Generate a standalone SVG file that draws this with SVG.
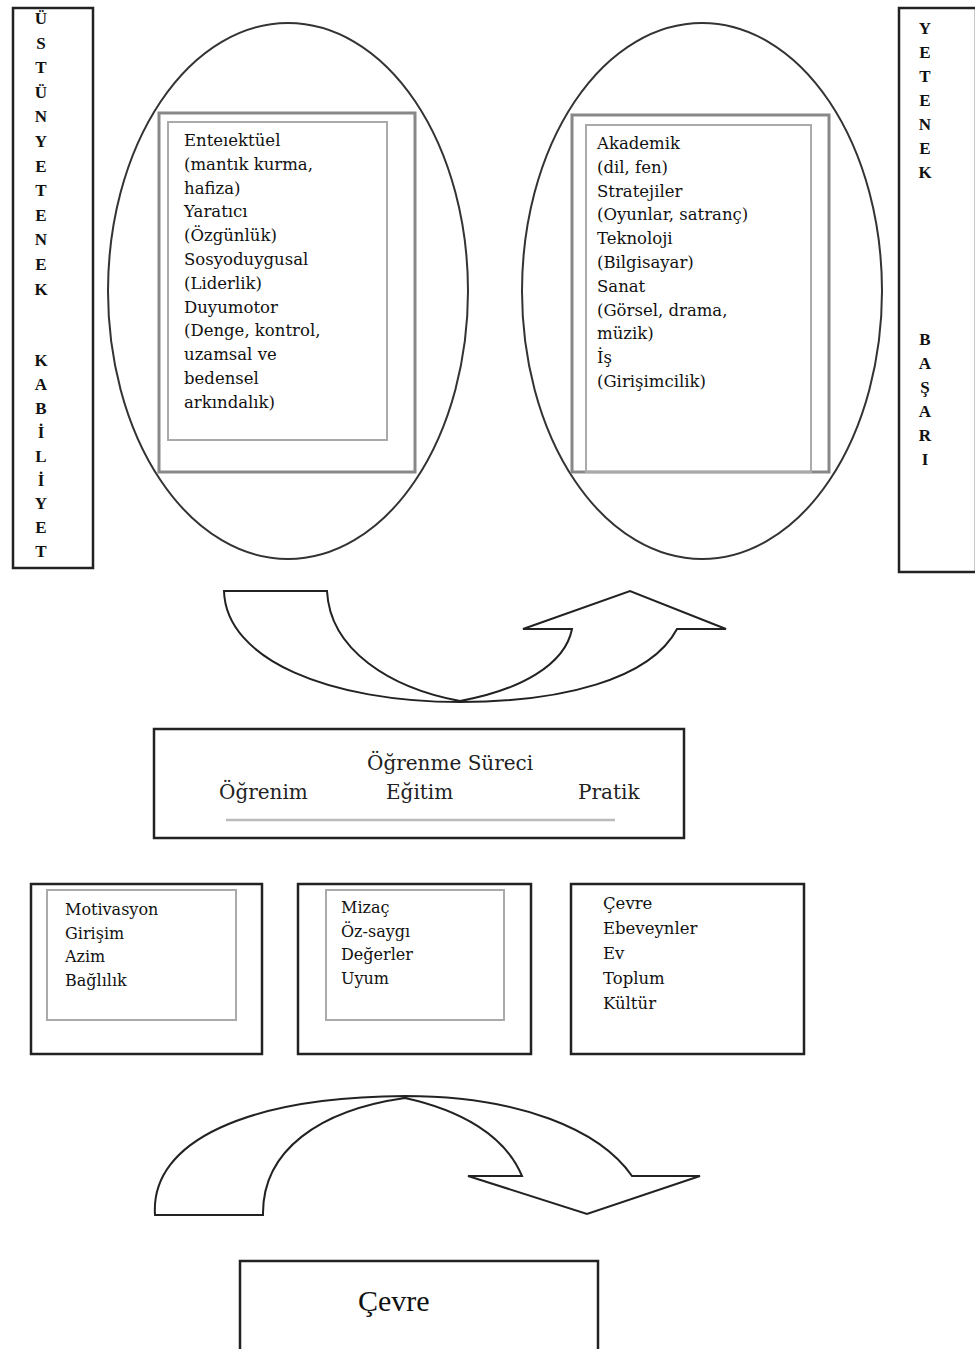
<svg xmlns="http://www.w3.org/2000/svg" width="975" height="1349" viewBox="0 0 975 1349">
<style>
.bar{fill:#fff;stroke:#222;stroke-width:2.5}
.vl{font-family:"Liberation Serif","DejaVu Serif",serif;font-weight:bold;font-size:17px;fill:#111;text-anchor:middle}
.ell{fill:none;stroke:#333;stroke-width:2}
.orect{fill:none;stroke:#888;stroke-width:3}
.irect{fill:none;stroke:#aaa;stroke-width:2}
.t1{font-family:"DejaVu Serif","Liberation Serif",serif;font-size:16.5px;fill:#111}
.box{fill:#fff;stroke:#222;stroke-width:2.5}
.mid{font-family:"DejaVu Serif","Liberation Serif",serif;font-size:20px;fill:#222}
.t2{font-family:"DejaVu Serif","Liberation Serif",serif;font-size:16px;fill:#111}
.t3{font-family:"DejaVu Serif","Liberation Serif",serif;font-size:16.5px;fill:#111}
.arrow{fill:none;stroke:#222;stroke-width:2}
</style>

<g id="left-bar">
<rect class="bar" x="13" y="8" width="80" height="560"/>
<text class="vl"><tspan x="41" y="24">Ü</tspan><tspan x="41" dy="24.6">S</tspan><tspan x="41" dy="24.6">T</tspan><tspan x="41" dy="24.6">Ü</tspan><tspan x="41" dy="24.6">N</tspan><tspan x="41" dy="24.6">Y</tspan><tspan x="41" dy="24.6">E</tspan><tspan x="41" dy="24.6">T</tspan><tspan x="41" dy="24.6">E</tspan><tspan x="41" dy="24.6">N</tspan><tspan x="41" dy="24.6">E</tspan><tspan x="41" dy="24.6">K</tspan></text>
<text class="vl"><tspan x="41" y="366">K</tspan><tspan x="41" dy="23.9">A</tspan><tspan x="41" dy="23.9">B</tspan><tspan x="41" dy="23.9">İ</tspan><tspan x="41" dy="23.9">L</tspan><tspan x="41" dy="23.9">İ</tspan><tspan x="41" dy="23.9">Y</tspan><tspan x="41" dy="23.9">E</tspan><tspan x="41" dy="23.9">T</tspan></text>
</g>

<g id="right-bar">
<rect class="bar" x="899" y="8" width="77" height="564"/>
<text class="vl"><tspan x="925" y="34">Y</tspan><tspan x="925" dy="24">E</tspan><tspan x="925" dy="24">T</tspan><tspan x="925" dy="24">E</tspan><tspan x="925" dy="24">N</tspan><tspan x="925" dy="24">E</tspan><tspan x="925" dy="24">K</tspan></text>
<text class="vl"><tspan x="925" y="345">B</tspan><tspan x="925" dy="24">A</tspan><tspan x="925" dy="24">Ş</tspan><tspan x="925" dy="24">A</tspan><tspan x="925" dy="24">R</tspan><tspan x="925" dy="24">I</tspan></text>
</g>

<g id="left-ellipse">
<ellipse class="ell" cx="288" cy="291" rx="180" ry="268"/>
<rect class="orect" x="159" y="113" width="256" height="359"/>
<rect class="irect" x="168" y="122" width="219" height="318"/>
<text class="t1"><tspan x="184" y="146">Enteıektüel</tspan><tspan x="184" dy="23.8">(mantık kurma,</tspan><tspan x="184" dy="23.8">hafiza)</tspan><tspan x="184" dy="23.8">Yaratıcı</tspan><tspan x="184" dy="23.8">(Özgünlük)</tspan><tspan x="184" dy="23.8">Sosyoduygusal</tspan><tspan x="184" dy="23.8">(Liderlik)</tspan><tspan x="184" dy="23.8">Duyumotor</tspan><tspan x="184" dy="23.8">(Denge, kontrol,</tspan><tspan x="184" dy="23.8">uzamsal ve</tspan><tspan x="184" dy="23.8">bedensel</tspan><tspan x="184" dy="23.8">arkındalık)</tspan></text>
</g>

<g id="right-ellipse">
<ellipse class="ell" cx="702" cy="291" rx="180" ry="268"/>
<rect class="orect" x="572" y="115" width="257" height="357"/>
<rect class="irect" x="586" y="125" width="225" height="347"/>
<text class="t1"><tspan x="597" y="149">Akademik</tspan><tspan x="597" dy="23.8">(dil, fen)</tspan><tspan x="597" dy="23.8">Stratejiler</tspan><tspan x="597" dy="23.8">(Oyunlar, satranç)</tspan><tspan x="597" dy="23.8">Teknoloji</tspan><tspan x="597" dy="23.8">(Bilgisayar)</tspan><tspan x="597" dy="23.8">Sanat</tspan><tspan x="597" dy="23.8">(Görsel, drama,</tspan><tspan x="597" dy="23.8">müzik)</tspan><tspan x="597" dy="23.8">İş</tspan><tspan x="597" dy="23.8">(Girişimcilik)</tspan></text>
</g>

<g id="connectors">
<path class="arrow" d="M224,591 L327,591 C330,650 390,688 460,701 C520,690 565,665 572,629 L523,629 L630,591 L726,629 L677,629 C650,680 560,702 460,702 C330,702 226,660 224,591 Z"/>
<path class="arrow" d="M155,1215 L263,1215 C262,1150 320,1110 405,1098 C460,1110 505,1135 522,1176 L468,1176 L587,1214 L700,1176 L632,1176 C600,1130 520,1096 405,1096 C250,1097 150,1140 155,1215 Z"/>
</g>

<g id="learning-process">
<rect class="box" x="154" y="729" width="530" height="109"/>
<text class="mid" x="367" y="770">Öğrenme Süreci</text>
<text class="mid" x="219" y="799">Öğrenim</text>
<text class="mid" x="386" y="799">Eğitim</text>
<text class="mid" x="578" y="799">Pratik</text>
<line x1="226" y1="820" x2="615" y2="820" stroke="#bbb" stroke-width="2.5"/>
</g>

<g id="box-motivation">
<rect class="box" x="31" y="884" width="231" height="170"/>
<rect class="irect" x="47" y="890" width="189" height="130"/>
<text class="t2"><tspan x="65" y="915">Motivasyon</tspan><tspan x="65" dy="23.5">Girişim</tspan><tspan x="65" dy="23.5">Azim</tspan><tspan x="65" dy="23.5">Bağlılık</tspan></text>
</g>

<g id="box-temperament">
<rect class="box" x="298" y="884" width="233" height="170"/>
<rect class="irect" x="326" y="890" width="178" height="130"/>
<text class="t2"><tspan x="341" y="913">Mizaç</tspan><tspan x="341" dy="23.5">Öz-saygı</tspan><tspan x="341" dy="23.5">Değerler</tspan><tspan x="341" dy="23.5">Uyum</tspan></text>
</g>

<g id="box-environment">
<rect class="box" x="571" y="884" width="233" height="170"/>
<text class="t3"><tspan x="603" y="909">Çevre</tspan><tspan x="603" dy="25">Ebeveynler</tspan><tspan x="603" dy="25">Ev</tspan><tspan x="603" dy="25">Toplum</tspan><tspan x="603" dy="25">Kültür</tspan></text>
</g>

<g id="cevre">
<rect class="box" x="240" y="1261" width="358" height="100"/>
<text x="358" y="1311" font-family="Liberation Serif, serif" font-size="30" fill="#111">Çevre</text>
</g>
</svg>
